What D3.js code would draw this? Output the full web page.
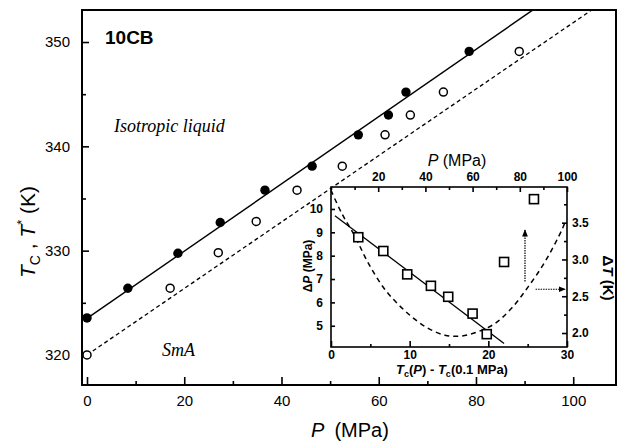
<!DOCTYPE html>
<html><head><meta charset="utf-8">
<script src="https://cdn.jsdelivr.net/npm/d3@7"></script>
<style>body{margin:0;background:#fff}svg{display:block}</style>
</head><body>
<svg id="c" width="626" height="442"></svg>
<script>
// ---- main panel data ----
const tcP = [0, 8.4, 18.7, 27.4, 36.6, 46.3, 55.8, 62.0, 65.6, 78.6];
const tcT = [323.55, 326.4, 329.75, 332.7, 335.8, 338.1, 341.1, 343.0, 345.2, 349.1];
const tsP = [0, 17.1, 27.0, 34.8, 43.2, 52.5, 61.3, 66.5, 73.3, 88.9];
const tsT = [320.0, 326.4, 329.8, 332.8, 335.8, 338.1, 341.1, 343.0, 345.2, 349.1];
const tcFitP = [0, 91.8], tcFitT = [323.5, 353.1];
const tsFitP = [0, 103.9], tsFitT = [320.0, 353.1];
const xTicks = [0, 20, 40, 60, 80, 100];
const xMinor = [10, 30, 50, 70, 90];
const yTicks = [320, 330, 340, 350];
const yMinor = [325, 335, 345];
// ---- inset data ----
const dTc = [3.47, 6.65, 9.69, 12.7, 14.9, 18.0, 19.8, 22.0, 25.8];
const dP  = [8.79, 8.20, 7.20, 6.71, 6.24, 5.52, 4.64, 7.73, 10.42];
const dFitX = [0.5, 22.0], dFitY = [9.71, 4.24];
const curveP = [0, 4.5, 10.2, 15.8, 22.9, 31.4, 39.8, 48.3, 55.4, 62.4, 69.5, 76.6, 83.6, 90.7, 97.8, 99.2];
const curveT = [3.94, 3.63, 3.31, 2.95, 2.59, 2.30, 2.09, 1.97, 1.96, 2.02, 2.13, 2.34, 2.63, 2.97, 3.40, 3.51];
const inBotTicks = [0, 10, 20, 30], inBotMinor = [5, 15, 25];
const inTopTicks = [20, 40, 60, 80, 100], inTopMinor = [0, 10, 30, 50, 70, 90];
const inLTicks = [5, 6, 7, 8, 9, 10];
const inRTicks = [2.0, 2.5, 3.0, 3.5], inRMinor = [2.25, 2.75, 3.25, 3.75];
// arrows (top-axis P, right-axis dT)
const arrowV = {p: [82.2, 82.2], t: [2.70, 3.40]};
const arrowH = {p: [86.7, 99.2], t: [2.595, 2.595]};

const svg = d3.select("#c");
const sans = "Liberation Sans, Arial, sans-serif";
const serif = "Liberation Serif, Times New Roman, serif";

const x = d3.scaleLinear([-1.03, 108.8], [82, 616]);
const y = d3.scaleLinear([317.12, 353.07], [385, 10]);

const defs = svg.append("defs");
defs.append("marker").attr("id","ah").attr("viewBox","0 0 10 10").attr("refX",9).attr("refY",5)
  .attr("markerWidth",6).attr("markerHeight",6).attr("orient","auto")
  .append("path").attr("d","M0,1 L10,5 L0,9 Z").attr("fill","#000");

function styleAxis(g, fs, fw) {
  g.select(".domain").remove();
  g.selectAll("line").attr("stroke","#000").attr("stroke-width",1.6);
  g.selectAll("text").attr("font-family",sans).attr("font-size",fs).attr("font-weight",fw).attr("fill","#000");
}

// main axes
svg.append("g").attr("transform","translate(0,385)")
  .call(d3.axisBottom(x).tickValues(xTicks).tickSize(-8).tickPadding(10).tickFormat(d3.format("d")))
  .call(g=>styleAxis(g,15,"normal"));
svg.append("g").attr("transform","translate(0,385)")
  .call(d3.axisBottom(x).tickValues(xMinor).tickSize(-4).tickFormat(""))
  .call(g=>styleAxis(g,15,"normal"));
svg.append("g").attr("transform","translate(82,0)")
  .call(d3.axisLeft(y).tickValues(yTicks).tickSize(-7).tickPadding(12).tickFormat(d3.format("d")))
  .call(g=>styleAxis(g,15,"normal"));
svg.append("g").attr("transform","translate(82,0)")
  .call(d3.axisLeft(y).tickValues(yMinor).tickSize(-4).tickFormat(""))
  .call(g=>styleAxis(g,15,"normal"));

svg.append("rect").attr("x",82).attr("y",10).attr("width",534).attr("height",375)
  .attr("fill","none").attr("stroke","#000").attr("stroke-width",2);

// fit lines
const line = d3.line();
svg.append("path").attr("d", line(tcFitP.map((p,i)=>[x(p), y(tcFitT[i])])))
  .attr("stroke","#000").attr("stroke-width",1.4).attr("fill","none");
svg.append("path").attr("d", line(tsFitP.map((p,i)=>[x(p), y(tsFitT[i])])))
  .attr("stroke","#000").attr("stroke-width",1.3).attr("stroke-dasharray","4,3").attr("fill","none");

// markers
svg.append("g").selectAll("circle").data(tcP).join("circle")
  .attr("cx",d=>x(d)).attr("cy",(d,i)=>y(tcT[i])).attr("r",4.7).attr("fill","#000");
svg.append("g").selectAll("circle").data(tsP).join("circle")
  .attr("cx",d=>x(d)).attr("cy",(d,i)=>y(tsT[i])).attr("r",4).attr("fill","#fff")
  .attr("stroke","#000").attr("stroke-width",1.5);

// main texts
svg.append("text").attr("x",105).attr("y",44).attr("font-family",sans).attr("font-weight","bold")
  .attr("font-size",19).text("10CB");
svg.append("text").attr("x",114).attr("y",132).attr("font-family",serif).attr("font-style","italic")
  .attr("font-size",18).text("Isotropic liquid");
svg.append("text").attr("x",162).attr("y",356).attr("font-family",serif).attr("font-style","italic")
  .attr("font-size",18).text("SmA");
const xl = svg.append("text").attr("x",350).attr("y",437).attr("text-anchor","middle")
  .attr("font-family",sans).attr("font-size",20);
xl.append("tspan").attr("font-style","italic").text("P");
xl.append("tspan").text("\u2002(MPa)");
const yl = svg.append("text").attr("transform","translate(35,232) rotate(-90)").attr("text-anchor","middle")
  .attr("font-family",sans).attr("font-size",21);
yl.append("tspan").attr("font-style","italic").text("T");
yl.append("tspan").attr("font-size",14).attr("dy",5).text("C");
yl.append("tspan").attr("dy",-5).text(" , ");
yl.append("tspan").attr("font-style","italic").text("T");
yl.append("tspan").attr("font-size",13).attr("dy",-9).text("*");
yl.append("tspan").attr("dy",9).text(" (K)");

// ---- inset ----
const L=331, R=567, T=187, B=347;
const ix = d3.scaleLinear([0,30],[L,R]);
const ixTop = d3.scaleLinear([0,100],[L,R]);
const iyL = d3.scaleLinear([4.09,10.94],[B,T]);
const iyR = d3.scaleLinear([1.81,3.985],[B,T]);

svg.append("rect").attr("x",L).attr("y",T).attr("width",R-L).attr("height",B-T)
  .attr("fill","#fff").attr("stroke","none");

svg.append("g").attr("transform",`translate(0,${B})`)
  .call(d3.axisBottom(ix).tickValues(inBotTicks).tickSize(-6).tickPadding(3).tickFormat(d3.format("d")))
  .call(g=>styleAxis(g,12,"bold"));
svg.append("g").attr("transform",`translate(0,${B})`)
  .call(d3.axisBottom(ix).tickValues(inBotMinor).tickSize(-3).tickFormat(""))
  .call(g=>styleAxis(g,12,"bold"));
svg.append("g").attr("transform",`translate(0,${T})`)
  .call(d3.axisTop(ixTop).tickValues(inTopTicks).tickSize(-5).tickPadding(6).tickFormat(d3.format("d")))
  .call(g=>styleAxis(g,12,"bold"));
svg.append("g").attr("transform",`translate(0,${T})`)
  .call(d3.axisTop(ixTop).tickValues(inTopMinor).tickSize(-3).tickFormat(""))
  .call(g=>styleAxis(g,12,"bold"));
svg.append("g").attr("transform",`translate(${L},0)`)
  .call(d3.axisLeft(iyL).tickValues(inLTicks).tickSize(-4).tickPadding(8).tickFormat(d3.format("d")))
  .call(g=>styleAxis(g,12,"bold"));
svg.append("g").attr("transform",`translate(${R},0)`)
  .call(d3.axisRight(iyR).tickValues(inRTicks).tickSize(-5).tickPadding(5).tickFormat(d3.format(".1f")))
  .call(g=>styleAxis(g,12,"bold"));
svg.append("g").attr("transform",`translate(${R},0)`)
  .call(d3.axisRight(iyR).tickValues(inRMinor.filter(v=>v<3.98)).tickSize(-3).tickFormat(""))
  .call(g=>styleAxis(g,12,"bold"));

svg.append("rect").attr("x",L).attr("y",T).attr("width",R-L).attr("height",B-T)
  .attr("fill","none").attr("stroke","#000").attr("stroke-width",1.6);

// inset fit line and curve
svg.append("path").attr("d", line(dFitX.map((v,i)=>[ix(v), iyL(dFitY[i])])))
  .attr("stroke","#000").attr("stroke-width",1.3).attr("fill","none");
svg.append("path").attr("d", d3.line().curve(d3.curveCatmullRom)(curveP.map((p,i)=>[ixTop(p), iyR(curveT[i])])))
  .attr("stroke","#000").attr("stroke-width",1.5).attr("stroke-dasharray","5,4").attr("fill","none");

// squares
svg.append("g").selectAll("rect").data(dTc).join("rect")
  .attr("x",d=>ix(d)-4.5).attr("y",(d,i)=>iyL(dP[i])-4.5).attr("width",9).attr("height",9)
  .attr("fill","#fff").attr("stroke","#000").attr("stroke-width",1.6);

// arrows
svg.append("path").attr("d", line(arrowV.p.map((p,i)=>[ixTop(p), iyR(arrowV.t[i])])))
  .attr("stroke","#000").attr("stroke-width",1.2).attr("stroke-dasharray","1.5,1").attr("fill","none")
  .attr("marker-end","url(#ah)");
svg.append("path").attr("d", line(arrowH.p.map((p,i)=>[ixTop(p), iyR(arrowH.t[i])])))
  .attr("stroke","#000").attr("stroke-width",1.2).attr("stroke-dasharray","1.5,1").attr("fill","none")
  .attr("marker-end","url(#ah)");

// inset labels
const it = svg.append("text").attr("x",457).attr("y",166).attr("text-anchor","middle")
  .attr("font-family",sans).attr("font-size",16);
it.append("tspan").attr("font-style","italic").text("P");
it.append("tspan").text(" (MPa)");
const ib = svg.append("text").attr("x",452).attr("y",374).attr("text-anchor","middle")
  .attr("font-family",sans).attr("font-size",13).attr("font-weight","bold");
ib.append("tspan").attr("font-style","italic").text("T");
ib.append("tspan").attr("font-size",9).attr("dy",3).text("c");
ib.append("tspan").attr("dy",-3).text("(");
ib.append("tspan").attr("font-style","italic").text("P");
ib.append("tspan").text(") - ");
ib.append("tspan").attr("font-style","italic").text("T");
ib.append("tspan").attr("font-size",9).attr("dy",3).text("c");
ib.append("tspan").attr("dy",-3).text("(0.1 MPa)");
const il = svg.append("text").attr("transform","translate(312,266) rotate(-90)").attr("text-anchor","middle")
  .attr("font-family",sans).attr("font-size",12).attr("font-weight","bold");
il.append("tspan").text("\u0394");
il.append("tspan").attr("font-style","italic").text("P");
il.append("tspan").text(" (MPa)");
const ir = svg.append("text").attr("transform","translate(603,278) rotate(90)").attr("text-anchor","middle")
  .attr("font-family",sans).attr("font-size",15).attr("font-weight","bold");
ir.append("tspan").text("\u0394");
ir.append("tspan").attr("font-style","italic").text("T");
ir.append("tspan").text(" (K)");
</script>
</body></html>
